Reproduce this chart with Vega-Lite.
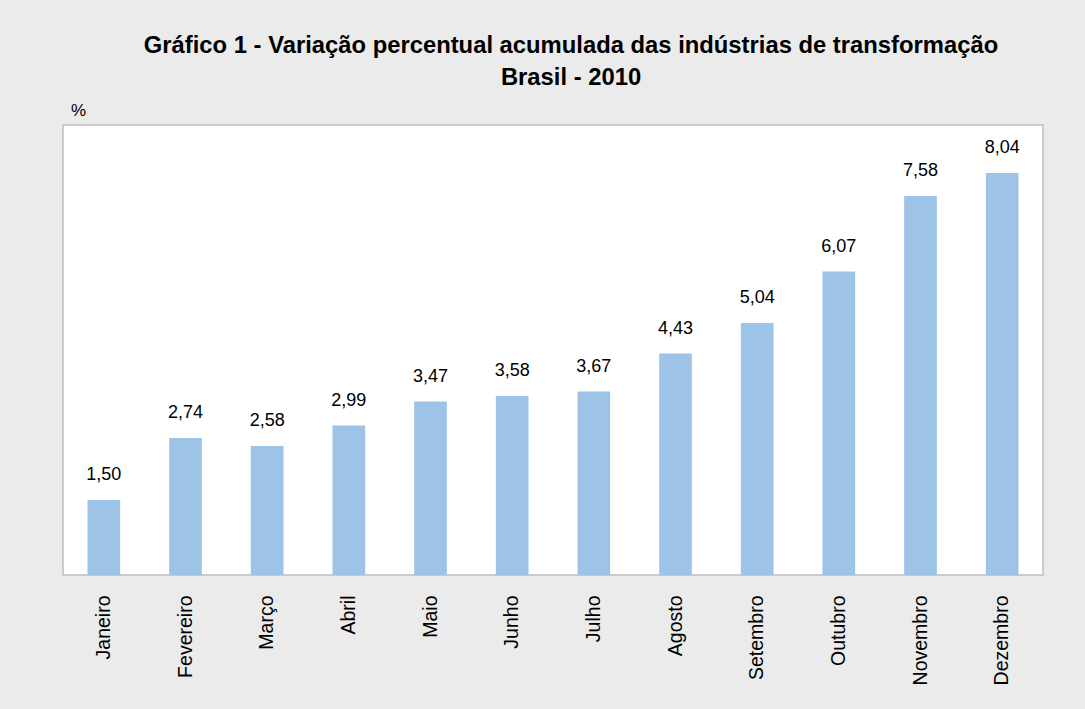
{
  "$schema": "https://vega.github.io/schema/vega-lite/v6.json",
  "autosize": {"type": "none"},
  "padding": {"left": 63, "top": 125, "right": 42, "bottom": 134},
  "width": 980,
  "height": 450,
  "background": "#ebebeb",
  "title": {
    "text": ["Gráfico 1 - Variação percentual acumulada das indústrias de transformação", "Brasil - 2010"],
    "font": "Liberation Sans",
    "fontSize": 23.8,
    "fontWeight": "bold",
    "color": "#000000",
    "anchor": "middle",
    "dx": 18,
    "offset": 11,
    "lineHeight": 32
  },
  "config": {
    "locale": {"number": {"decimal": ",", "thousands": ".", "grouping": [3], "currency": ["R$", ""]}},
    "view": {"stroke": "#bfbfbf", "fill": "#ffffff", "strokeWidth": 1.5},
    "font": "Liberation Sans"
  },
  "data": {
    "values": [
      {"mes": "Janeiro", "valor": 1.50},
      {"mes": "Fevereiro", "valor": 2.74},
      {"mes": "Março", "valor": 2.58},
      {"mes": "Abril", "valor": 2.99},
      {"mes": "Maio", "valor": 3.47},
      {"mes": "Junho", "valor": 3.58},
      {"mes": "Julho", "valor": 3.67},
      {"mes": "Agosto", "valor": 4.43},
      {"mes": "Setembro", "valor": 5.04},
      {"mes": "Outubro", "valor": 6.07},
      {"mes": "Novembro", "valor": 7.58},
      {"mes": "Dezembro", "valor": 8.04}
    ]
  },
  "encoding": {
    "x": {
      "field": "mes",
      "type": "nominal",
      "sort": null,
      "scale": {"paddingInner": 0.6, "paddingOuter": 0.3},
      "axis": {
        "title": null,
        "labelAngle": -90,
        "labelFontSize": 19.5,
        "labelColor": "#000000",
        "labelPadding": 20,
        "ticks": false,
        "domain": false,
        "labelFont": "Liberation Sans"
      }
    },
    "y": {
      "field": "valor",
      "type": "quantitative",
      "scale": {"domain": [0, 9], "nice": false},
      "axis": {
        "title": "%",
        "titleAngle": 0,
        "titleX": 15,
        "titleY": -15,
        "titleAlign": "center",
        "titleBaseline": "middle",
        "titleFontSize": 17,
        "titleFontWeight": "normal",
        "titleColor": "#000000",
        "labels": false,
        "ticks": false,
        "domain": false,
        "grid": false
      }
    }
  },
  "layer": [
    {"mark": {"type": "bar", "color": "#9dc3e6"}},
    {
      "mark": {"type": "text", "baseline": "bottom", "dy": -16, "fontSize": 18, "color": "#000000"},
      "encoding": {"text": {"field": "valor", "type": "quantitative", "format": ".2f"}}
    }
  ]
}
